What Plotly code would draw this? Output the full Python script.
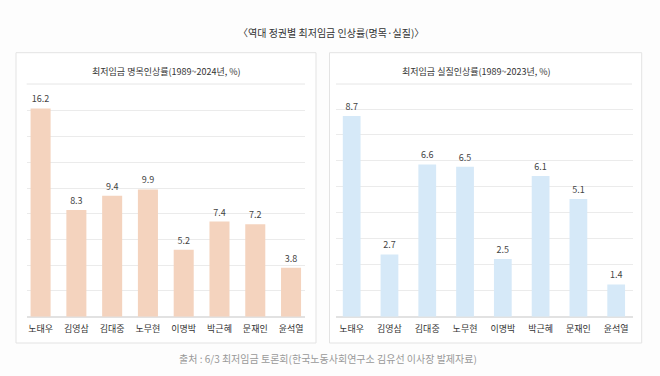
import plotly.graph_objects as go

categories = ["노태우", "김영삼", "김대중", "노무현", "이명박", "박근혜", "문재인", "윤석열"]
nominal = [16.2, 8.3, 9.4, 9.9, 5.2, 7.4, 7.2, 3.8]
real = [8.7, 2.7, 6.6, 6.5, 2.5, 6.1, 5.1, 1.4]

title_text = "〈역대 정권별 최저임금 인상률(명목·실질)〉"
left_title = "최저임금 명목인상률(1989~2024년, %)"
right_title = "최저임금 실질인상률(1989~2023년, %)"
source_text = "출처 : 6/3 최저임금 토론회(한국노동사회연구소 김유선 이사장 발제자료)"

W, H = 660, 376
FONT = "Noto Sans CJK KR"

def px(x):
    return x / W

def py(y):
    return 1 - y / H

fig = go.Figure()
fig.add_trace(go.Bar(
    x=categories, y=nominal, xaxis="x", yaxis="y",
    marker=dict(color="#F4D3BE", line=dict(width=0)), width=0.56,
    texttemplate="%{y:.1f}", textposition="outside", cliponaxis=False,
    textfont=dict(family=FONT, size=9, color="#444444"), hoverinfo="x+y",
))
fig.add_trace(go.Bar(
    x=categories, y=real, xaxis="x2", yaxis="y2",
    marker=dict(color="#D6E9F8", line=dict(width=0)), width=0.47,
    texttemplate="%{y:.1f}", textposition="outside", cliponaxis=False,
    textfont=dict(family=FONT, size=9, color="#444444"), hoverinfo="x+y",
))

ybot = py(316.7)
ytop = py(91.7)
axis_common = dict(showline=False, ticks="", ticklabelstandoff=5,
                   tickfont=dict(family=FONT, size=9, color="#333333"))
fig.update_layout(
    width=W, height=H, margin=dict(l=0, r=0, t=0, b=0),
    paper_bgcolor="#fdfdfd", plot_bgcolor="rgba(0,0,0,0)",
    showlegend=False, bargap=0.4,
    font=dict(family=FONT, color="#333333"),
    xaxis=dict(domain=[px(27), px(305)], range=[-0.38, 7.39], anchor="y", **axis_common),
    yaxis=dict(domain=[ybot, ytop], range=[0, 17.5], dtick=2, showticklabels=False,
               showgrid=True, gridcolor="#ebebeb", gridwidth=1, zeroline=True,
               zerolinecolor="#e2e2e2", anchor="x"),
    xaxis2=dict(domain=[px(336), px(632.7)], range=[-0.415, 7.437], anchor="y2", **axis_common),
    yaxis2=dict(domain=[ybot, ytop], range=[0, 9.75], dtick=1.125, showticklabels=False,
                showgrid=True, gridcolor="#ebebeb", gridwidth=1, zeroline=True,
                zerolinecolor="#e2e2e2", anchor="x2"),
    shapes=[
        dict(type="rect", xref="paper", yref="paper", x0=px(16), x1=px(316), y0=py(343), y1=py(52.7),
             line=dict(color="#e3e3e3", width=1), fillcolor="#ffffff", layer="below"),
        dict(type="rect", xref="paper", yref="paper", x0=px(329.5), x1=px(641.7), y0=py(343), y1=py(52.7),
             line=dict(color="#e3e3e3", width=1), fillcolor="#ffffff", layer="below"),
        dict(type="line", xref="paper", yref="paper", x0=px(26.7), x1=px(305), y0=py(84), y1=py(84),
             line=dict(color="#e6e6e6", width=1)),
        dict(type="line", xref="paper", yref="paper", x0=px(336), x1=px(632), y0=py(84), y1=py(84),
             line=dict(color="#e6e6e6", width=1)),
    ],
    annotations=[
        dict(text=title_text, xref="paper", yref="paper", x=px(331), y=py(32), showarrow=False,
             xanchor="center", yanchor="middle", font=dict(family=FONT, size=10, color="#333333")),
        dict(text=left_title, xref="paper", yref="paper", x=px(166), y=py(71), showarrow=False,
             xanchor="center", yanchor="middle", font=dict(family=FONT, size=9, color="#333333")),
        dict(text=right_title, xref="paper", yref="paper", x=px(476.7), y=py(71), showarrow=False,
             xanchor="center", yanchor="middle", font=dict(family=FONT, size=9, color="#333333")),
        dict(text=source_text, xref="paper", yref="paper", x=px(328), y=py(358), showarrow=False,
             xanchor="center", yanchor="middle", font=dict(family=FONT, size=10, color="#999999")),
    ],
)

fig.write_html("out.html", config={"displayModeBar": False},
               post_script="document.body.style.margin='0';document.body.style.overflow='hidden';")
